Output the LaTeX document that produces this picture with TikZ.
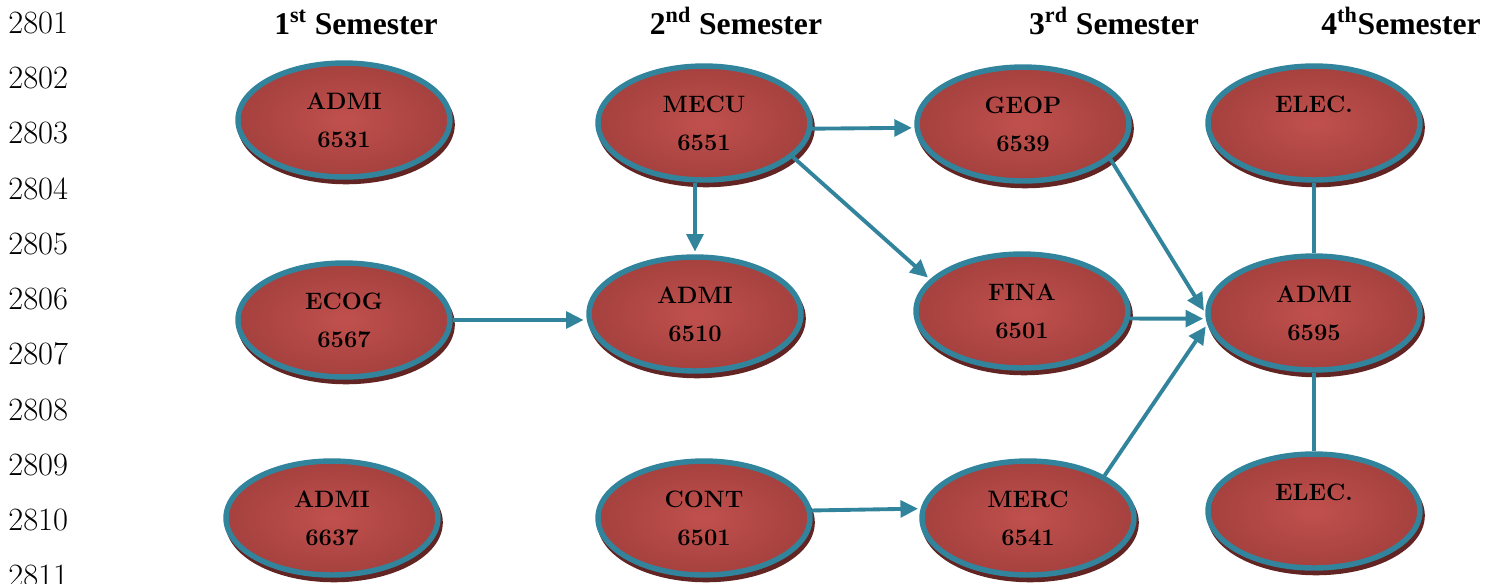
\documentclass[tikz,border=0pt]{standalone}
\usepackage{fontspec}
\newfontfamily\timesfont{Liberation Serif}
\usetikzlibrary{arrows.meta,shapes.geometric,shadows}

\definecolor{borderteal}{HTML}{31849B}
\definecolor{innerred}{HTML}{C0504D}
\definecolor{outerred}{HTML}{8A3230}
\definecolor{shadowred}{HTML}{632523}
\pgfdeclareradialshading{courseshade}{\pgfpoint{0bp}{0bp}}{color(0bp)=(innerred); color(50bp)=(outerred)}

\tikzset{
  course/.style={ellipse, draw=borderteal, line width=3.1pt, shading=courseshade,
    minimum width=4.24cm, minimum height=2.28cm, inner sep=0pt, align=center,
    font=\fontsize{13.5}{21.5}\selectfont\bfseries,
    general shadow={fill=shadowred, draw=shadowred, line width=3.1pt,
      shadow xshift=1.2pt, shadow yshift=-2.6pt}},
  link/.style={draw=borderteal, line width=2.2pt, -{Triangle[length=10pt,width=9.5pt]}, shorten >=1.5pt},
  plainlink/.style={draw=borderteal, line width=2.2pt},
  semester/.style={anchor=base, font=\timesfont\bfseries\fontsize{18}{20}\selectfont},
  linenum/.style={anchor=base west, inner sep=0pt, font=\fontsize{18.5}{20}\selectfont}
}

\begin{document}
\begin{tikzpicture}[x=0.02cm,y=-0.02cm]
\clip (0,0) rectangle (1499,583);

% line numbers
\foreach \i in {0,...,10}{
  \pgfmathtruncatemacro\num{2801+\i}
  \node[linenum] (ln\i) at (8,{33+55.33*\i}) {\num};
}

% semesters
\node[semester] (sem1) at (356,34) {1\textsuperscript{st} Semester};
\node[semester] (sem2) at (736,34) {2\textsuperscript{nd} Semester};
\node[semester] (sem3) at (1114,34) {3\textsuperscript{rd} Semester};
\node[semester] (sem4) at (1401,34) {4\textsuperscript{th}Semester};

% courses
\node[course] (admiA) at (344,120) {ADMI\\6531};
\node[course] (mecu) at (704,123) {MECU\\6551};
\node[course] (geop) at (1023,124) {GEOP\\6539};
\node[course] (elecA) at (1314,123) {ELEC.\\\phantom{0000}};

\node[course] (ecog) at (344,320) {ECOG\\6567};
\node[course] (admiB) at (695,314) {ADMI\\6510};
\node[course] (fina) at (1022,311) {FINA\\6501};
\node[course] (admiC) at (1314,313) {ADMI\\6595};

\node[course] (admiD) at (332,518) {ADMI\\6637};
\node[course] (cont) at (704,518) {CONT\\6501};
\node[course] (merc) at (1028,518) {MERC\\6541};
\node[course] (elecB) at (1314,511) {ELEC.\\\phantom{0000}};

% prerequisites
\draw[link] (mecu.-3) -- (geop.182);
\draw[link] (mecu.south -| admiB.north) -- (admiB.north);
\draw[link] (mecu.-21) -- (fina.161);
\draw[link] (ecog.east) -- (ecog.east -| admiB.west);
\draw[link] (geop.-22) -- (admiC.west);
\draw[link] (fina.-4) -- (admiC.-177);
\draw[link] (merc.29) -- (admiC.-174);
\draw[link] (cont.4) -- (merc.175);
\draw[plainlink] (elecA) -- (admiC);
\draw[plainlink] (admiC) -- (elecB);

\end{tikzpicture}
\end{document}
